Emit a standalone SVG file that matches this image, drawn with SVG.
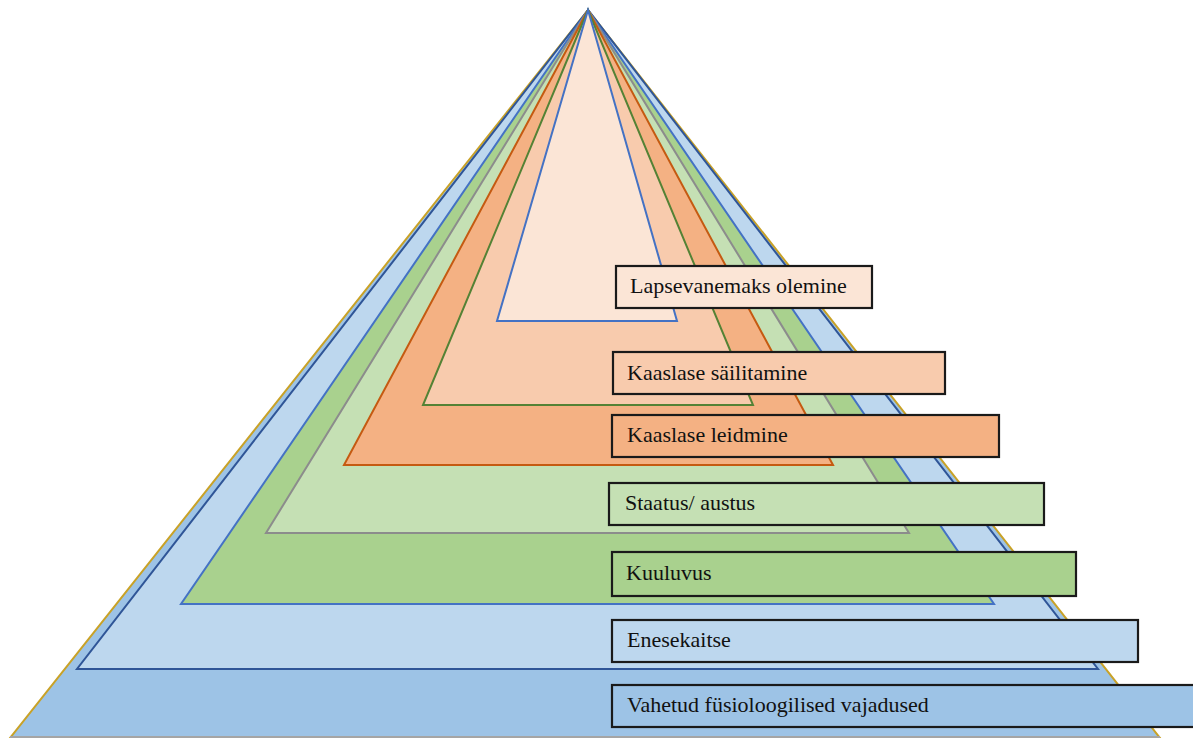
<svg xmlns="http://www.w3.org/2000/svg" width="1193" height="738" viewBox="0 0 1193 738">
<style>
.layer{stroke-width:2;stroke-linejoin:miter}
.box{stroke:#1a1a1a;stroke-width:2.2}
.lbl{font-family:"Liberation Serif","Times New Roman",serif;font-size:22px;fill:#111}
</style>
<rect width="1193" height="738" fill="#ffffff"/>
<g id="layers">
<g id="layer-1"><polygon class="layer" points="588,10 10,738 1160,738" fill="#9dc3e6" stroke="#c9a227"/><line x1="10" y1="737" x2="1160" y2="737" stroke="#a5a5a5" stroke-width="2"/></g>
<g id="layer-2"><polygon class="layer" points="588,10 77,669 1098,669" fill="#bdd7ee" stroke="#2f5597"/></g>
<g id="layer-3"><polygon class="layer" points="588,10 181,604 994,604" fill="#a9d18e" stroke="#4472c4"/></g>
<g id="layer-4"><polygon class="layer" points="588,10 266,533 909,533" fill="#c5e0b4" stroke="#8c8c8c"/></g>
<g id="layer-5"><polygon class="layer" points="588,10 344,465 833,465" fill="#f4b183" stroke="#c55a11"/></g>
<g id="layer-6"><polygon class="layer" points="588,10 423,405 753,405" fill="#f8cbad" stroke="#548235"/></g>
<g id="layer-7"><polygon class="layer" points="588,10 497,321 677,321" fill="#fbe5d6" stroke="#4472c4"/></g>
</g>
<g id="connectors"></g>
<g id="label-lapsevanemaks"><rect class="box" x="616" y="266" width="256" height="42" fill="#fbe5d6"/><text class="lbl" x="630" y="293">Lapsevanemaks olemine</text></g>
<g id="label-sailitamine"><rect class="box" x="613" y="352" width="332" height="42" fill="#f8cbad"/><text class="lbl" x="627" y="380">Kaaslase säilitamine</text></g>
<g id="label-leidmine"><rect class="box" x="612" y="415" width="387" height="42" fill="#f4b183"/><text class="lbl" x="627" y="442">Kaaslase leidmine</text></g>
<g id="label-staatus"><rect class="box" x="609" y="483" width="435" height="42" fill="#c5e0b4"/><text class="lbl" x="625" y="510">Staatus/ austus</text></g>
<g id="label-kuuluvus"><rect class="box" x="612" y="552" width="464" height="44" fill="#a9d18e"/><text class="lbl" x="626" y="580">Kuuluvus</text></g>
<g id="label-enesekaitse"><rect class="box" x="612" y="620" width="526" height="42" fill="#bdd7ee"/><text class="lbl" x="627" y="647">Enesekaitse</text></g>
<g id="label-vahetud"><rect class="box" x="612" y="685" width="590" height="42" fill="#9dc3e6"/><text class="lbl" x="627" y="712">Vahetud füsioloogilised vajadused</text></g>
</svg>
